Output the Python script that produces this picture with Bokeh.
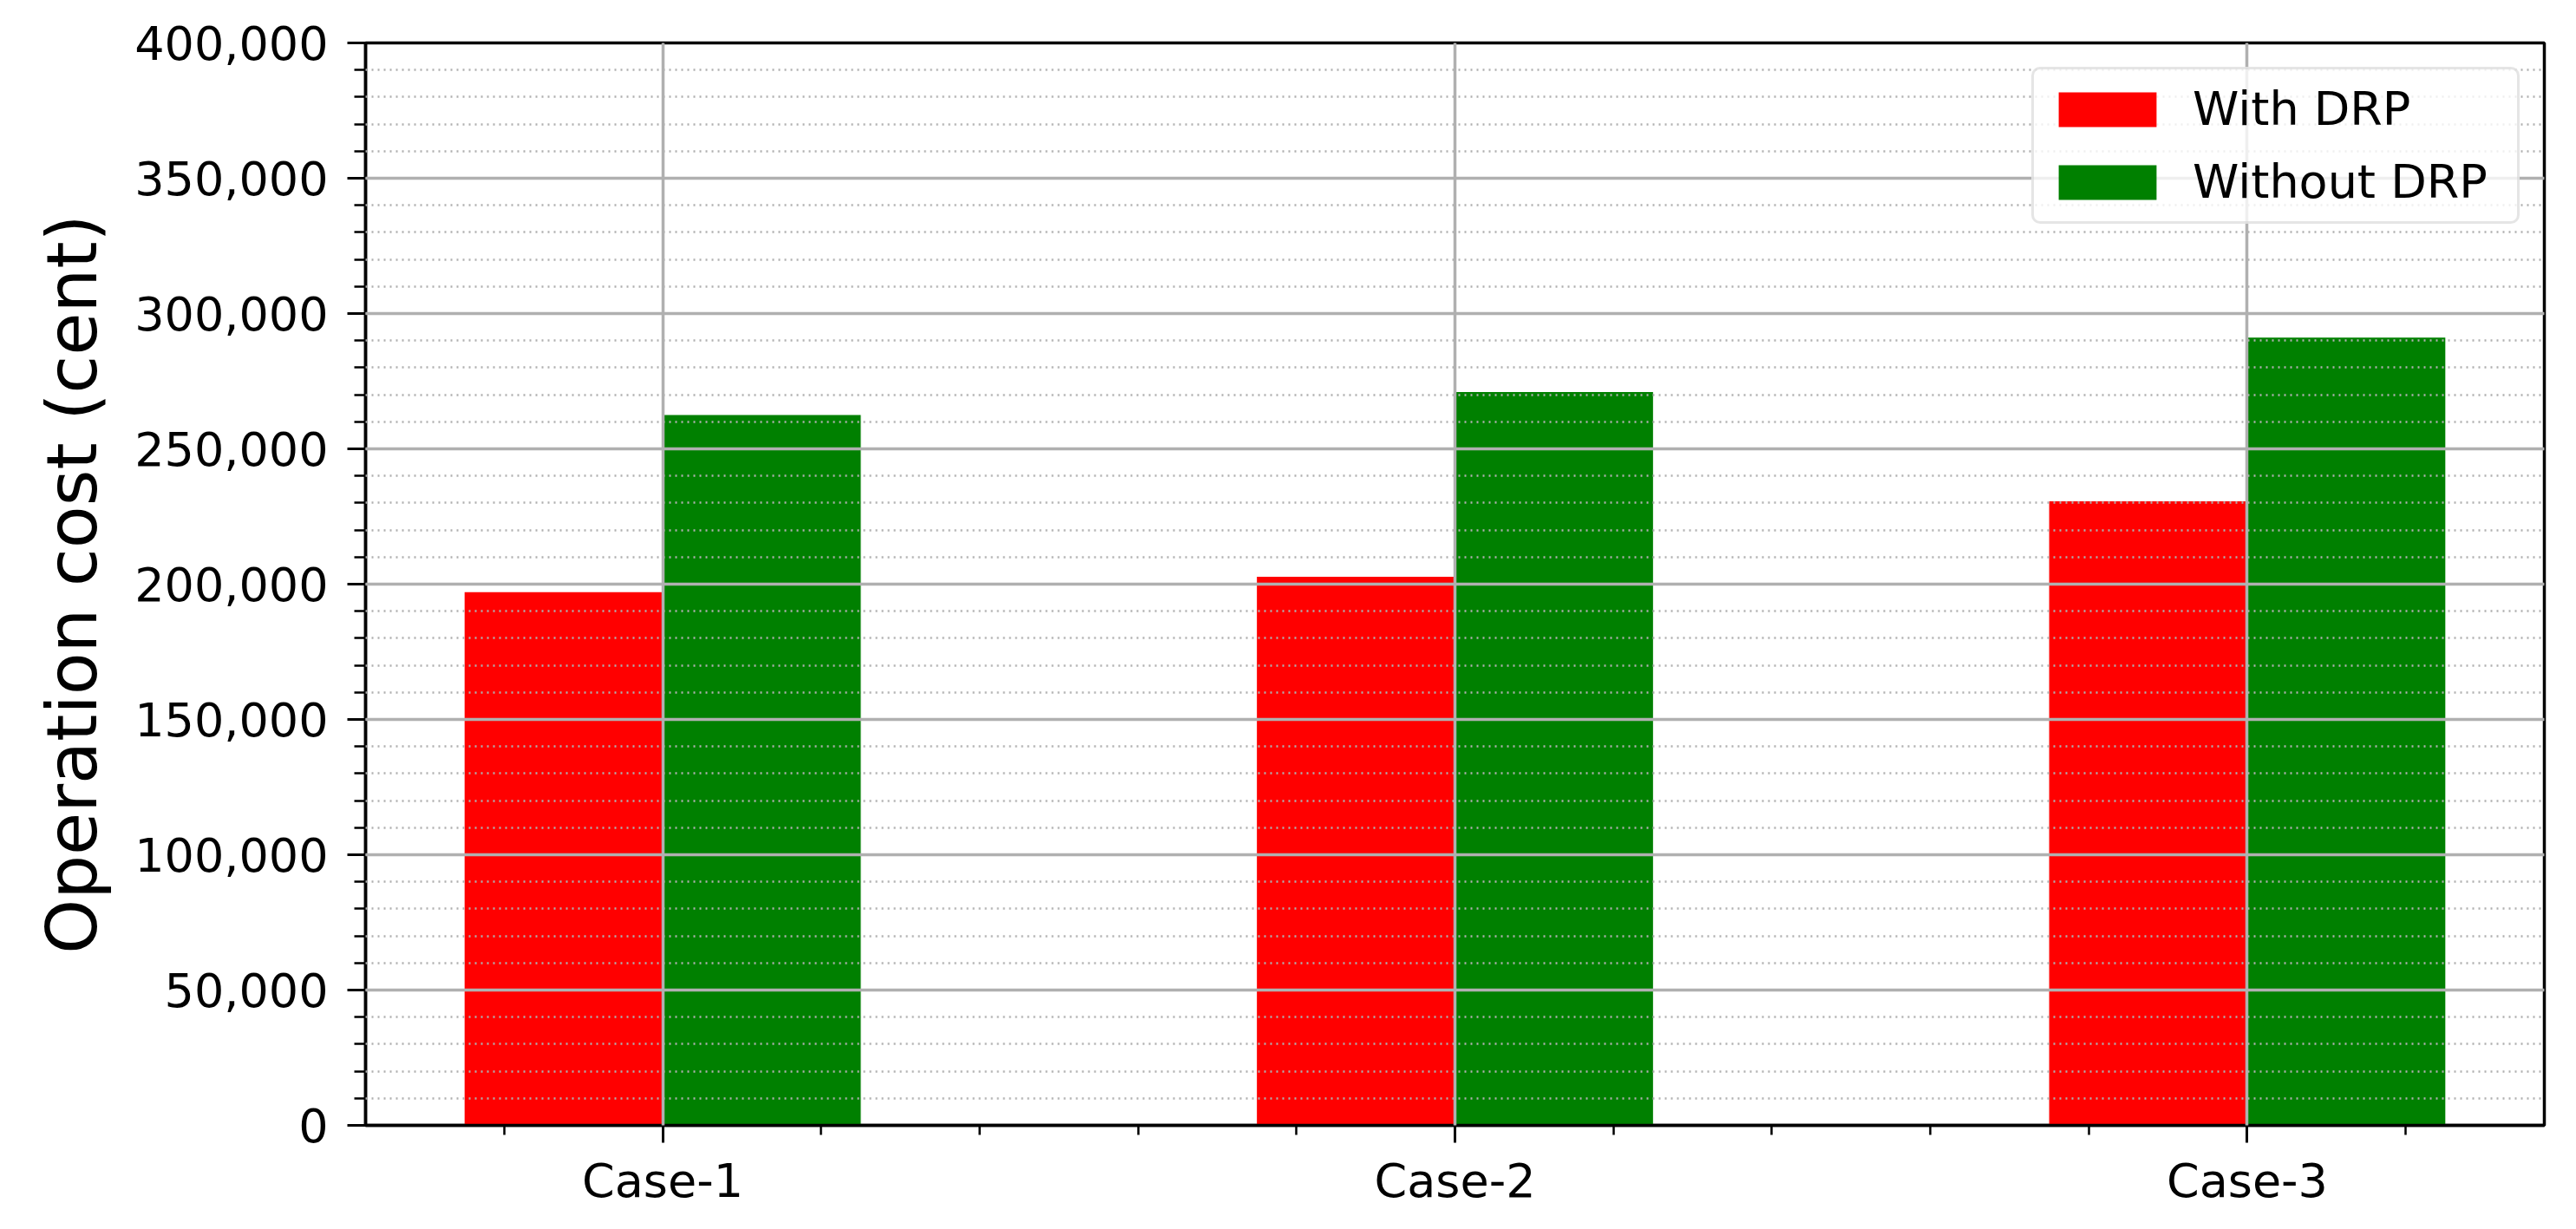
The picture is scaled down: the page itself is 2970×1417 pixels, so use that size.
import numpy as np
from bokeh.plotting import figure
from bokeh.models import (Range1d, FixedTicker, NumeralTickFormatter, Legend, LegendItem,
                          ColumnDataSource)
from bokeh.embed import file_html
from bokeh.resources import INLINE

# ---- data ----
cases = ["Case-1", "Case-2", "Case-3"]
with_drp = [197000, 202700, 230600]
without_drp = [262500, 271000, 291100]
series_names = ["With DRP", "Without DRP"]
series_colors = ["#ff0000", "#008000"]
y_ticks = list(range(0, 400001, 50000))
y_minor = list(range(0, 400001, 10000))

FONT = "DejaVu Sans"
idx = np.arange(len(cases))
bar_w = 0.25

p = figure(width=2958, height=1406, output_backend="svg", toolbar_location=None,
           x_range=Range1d(-0.375, len(cases) - 1 + 0.375), y_range=Range1d(0, 400000),
           min_border_left=421, min_border_right=25, min_border_top=49, min_border_bottom=109)
p.background_fill_color = "white"
p.border_fill_color = "white"
p.outline_line_color = "black"
p.outline_line_width = 3.5

src1 = ColumnDataSource(dict(x=idx - bar_w / 2, top=with_drp))
src2 = ColumnDataSource(dict(x=idx + bar_w / 2, top=without_drp))
r1 = p.vbar(x="x", top="top", width=bar_w, bottom=0, source=src1,
            fill_color=series_colors[0], line_color=None)
r2 = p.vbar(x="x", top="top", width=bar_w, bottom=0, source=src2,
            fill_color=series_colors[1], line_color=None)

# axes
minor_x = [round(v, 1) for v in np.arange(-0.2, len(cases) - 1 + 0.21, 0.2)
           if abs(v - round(v)) > 1e-6]
p.xaxis.ticker = FixedTicker(ticks=list(idx), minor_ticks=minor_x)
p.xaxis.major_label_overrides = {int(i): c for i, c in zip(idx, cases)}
p.yaxis.ticker = FixedTicker(ticks=y_ticks, minor_ticks=y_minor)
p.yaxis.formatter = NumeralTickFormatter(format="0,0")

for ax in (p.xaxis[0], p.yaxis[0]):
    ax.axis_line_color = "black"
    ax.axis_line_width = 3.5
    ax.major_tick_line_color = "black"
    ax.major_tick_line_width = 3
    ax.minor_tick_line_color = "black"
    ax.minor_tick_line_width = 2.5
    ax.major_tick_in = 0
    ax.minor_tick_in = 0
    ax.major_label_text_font = FONT
    ax.major_label_text_font_size = "54px"
    ax.major_label_text_color = "black"

p.xaxis.major_tick_out = 20
p.xaxis.minor_tick_out = 11
p.xaxis.major_label_standoff = 12
p.yaxis.major_tick_out = 21
p.yaxis.minor_tick_out = 13
p.yaxis.major_label_standoff = 22

p.yaxis.axis_label = "Operation cost (cent)"
p.yaxis.axis_label_text_font = FONT
p.yaxis.axis_label_text_font_size = "80px"
p.yaxis.axis_label_text_font_style = "normal"
p.yaxis.axis_label_text_color = "black"
p.yaxis.axis_label_standoff = 22

# grids (drawn above bars)
p.xgrid.ticker = FixedTicker(ticks=list(idx))
p.xgrid.grid_line_color = "#b0b0b0"
p.xgrid.grid_line_width = 3.5
p.xgrid.level = "guide"
p.ygrid.grid_line_color = "#b0b0b0"
p.ygrid.grid_line_width = 3.5
p.ygrid.minor_grid_line_color = "#b0b0b0"
p.ygrid.minor_grid_line_width = 2.5
p.ygrid.minor_grid_line_dash = "2 5"
p.ygrid.level = "guide"

legend = Legend(items=[LegendItem(label=series_names[0], renderers=[r1]),
                       LegendItem(label=series_names[1], renderers=[r2])],
                location="top_right")
legend.label_text_font = FONT
legend.label_text_font_size = "54px"
legend.label_text_color = "black"
legend.glyph_width = 141
legend.glyph_height = 50
legend.label_width = 360
legend.label_standoff = 28
legend.padding = 14
legend.spacing = 21
legend.margin = 28
legend.border_line_color = "#cccccc"
legend.border_line_width = 3
legend.background_fill_color = "white"
legend.background_fill_alpha = 0.8
if "border_radius" in Legend.properties():
    legend.border_radius = 10
p.add_layout(legend)

open("out.html", "w").write(file_html(p, INLINE))
